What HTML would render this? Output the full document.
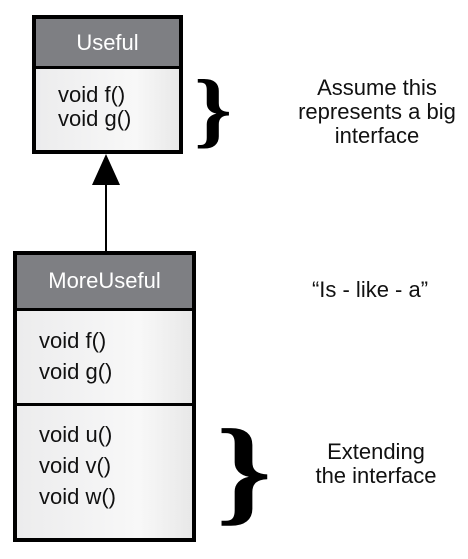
<!DOCTYPE html>
<html><head><style>
body{margin:0;width:468px;height:559px;background:#fff;position:relative;overflow:hidden;font-family:"Liberation Sans",sans-serif;}
.abs{position:absolute;box-sizing:border-box;}
.hdr{background:#7e7f83;color:#fff;text-align:center;font-size:22px;}
.body{background:linear-gradient(90deg,#ececed,#f8f8f8 70%,#e8e8e8);color:#111;font-size:22px;}
.note{position:absolute;text-align:center;font-size:22px;line-height:24px;color:#111;width:220px;}
</style></head><body>
<div class="abs" style="left:32px;top:15px;width:151px;height:139px;border:4px solid #000;background:#000;">
 <div class="abs hdr" style="left:0;top:0;width:143px;height:47px;line-height:47px;">Useful</div>
 <div class="abs body" style="left:0;top:50px;width:143px;height:81px;padding:14px 0 0 22px;line-height:24px;">void f()<br>void g()</div>
</div>
<svg class="abs" style="left:0;top:0" width="468" height="559">
 <line x1="106" y1="180" x2="106" y2="252" stroke="#000" stroke-width="2"/>
 <polygon points="106,154 92,185 120,185" fill="#000"/>
</svg>
<div class="abs" style="left:13px;top:251px;width:183px;height:291px;border:4px solid #000;background:#000;">
 <div class="abs hdr" style="left:0;top:0;width:175px;height:53px;line-height:52px;">MoreUseful</div>
 <div class="abs body" style="left:0;top:56px;width:175px;height:92px;padding:14px 0 0 22px;line-height:31px;">void f()<br>void g()</div>
 <div class="abs body" style="left:0;top:151px;width:175px;height:132px;padding:13px 0 0 22px;line-height:31px;">void u()<br>void v()<br>void w()</div>
</div>
<div class="abs" style="left:194px;top:62px;font-family:'Liberation Serif',serif;font-size:84px;line-height:96px;font-weight:bold;transform:scaleX(1.15);transform-origin:left;">}</div>
<div class="abs" style="left:216px;top:406px;font-family:'Liberation Serif',serif;font-size:118px;line-height:130px;font-weight:bold;transform:scaleX(1.2);transform-origin:left;">}</div>
<div class="note" style="left:267px;top:76px;">Assume this<br>represents a big<br>interface</div>
<div class="note" style="left:260px;top:278px;">“Is - like - a”</div>
<div class="note" style="left:266px;top:440px;">Extending<br>the interface</div>
</body></html>
